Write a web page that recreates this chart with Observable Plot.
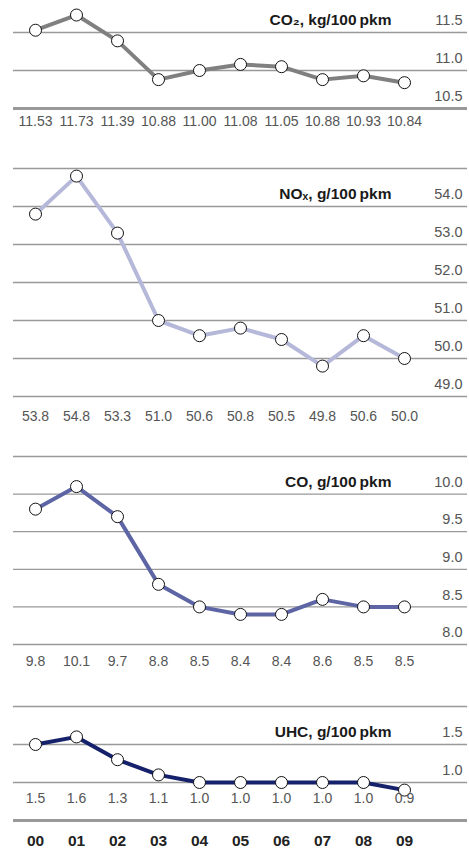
<!DOCTYPE html>
<html>
<head>
<meta charset="utf-8">
<script src="https://cdn.jsdelivr.net/npm/d3@7"></script>
<script src="https://cdn.jsdelivr.net/npm/@observablehq/plot@0.6"></script>
<style>
html, body { margin: 0; padding: 0; background: #fff; }
#chart svg { display: block; }
</style>
</head>
<body>
<div id="chart"></div>
<script>
// ---- data ----
const years = ["00", "01", "02", "03", "04", "05", "06", "07", "08", "09"];

const co2Values = [11.53, 11.73, 11.39, 10.88, 11.00, 11.08, 11.05, 10.88, 10.93, 10.84];
const noxValues = [53.8, 54.8, 53.3, 51.0, 50.6, 50.8, 50.5, 49.8, 50.6, 50.0];
const coValues  = [9.8, 10.1, 9.7, 8.8, 8.5, 8.4, 8.4, 8.6, 8.5, 8.5];
const uhcValues = [1.5, 1.6, 1.3, 1.1, 1.0, 1.0, 1.0, 1.0, 1.0, 0.9];

const co2Ticks = [11.5, 11.0, 10.5];
const noxTicks = [54.0, 53.0, 52.0, 51.0, 50.0, 49.0];
const coTicks  = [10.0, 9.5, 9.0, 8.5, 8.0];
const uhcTicks = [1.5, 1.0];

const co2Title = "CO\u2082, kg/100\u2009pkm";
const noxTitle = "NO\u2093, g/100\u2009pkm";
const coTitle  = "CO, g/100\u2009pkm";
const uhcTitle = "UHC, g/100\u2009pkm";

// ---- panel options ----
const panels = [
  { title: co2Title, values: co2Values, ticks: co2Ticks, decimals: 2,
    grid: [11.5, 11.0], thick: [10.5], domain: [10.5, 11.5], range: [108, 32],
    height: 150, frameBottom: 108, rowDy: 17, color: "#808080", years: false },
  { title: noxTitle, values: noxValues, ticks: noxTicks, decimals: 1,
    grid: [55, 54, 53, 52, 51, 50, 49], thick: [], domain: [49, 55], range: [246, 18],
    height: 290, frameBottom: 246, rowDy: 24, color: "#b5b8d9", years: false },
  { title: coTitle, values: coValues, ticks: coTicks, decimals: 1,
    grid: [10.5, 10, 9.5, 9, 8.5, 8], thick: [], domain: [8, 10.5], range: [204, 16],
    height: 250, frameBottom: 204, rowDy: 21, color: "#5d65a5", years: false },
  { title: uhcTitle, values: uhcValues, ticks: uhcTicks, decimals: 1,
    grid: [2.0, 1.5, 1.0], thick: [0.5], domain: [0.5, 2.0], range: [130, 16],
    height: 159, frameBottom: 130, rowDy: -18, color: "#15216b", years: true }
];

const font = "'Liberation Sans', Arial, Helvetica, sans-serif";
const chart = document.getElementById("chart");

for (const p of panels) {
  const rows = years.map((year, i) => ({ year, value: p.values[i] }));
  const fmtVal = d3.format("." + p.decimals + "f");
  const fmtTick = d3.format(".1f");
  const svg = Plot.plot({
    width: 469,
    height: p.height,
    marginLeft: 13,
    marginRight: 2,
    marginTop: 0,
    marginBottom: p.height - p.frameBottom,
    style: { fontFamily: font, color: "#222", background: "#fff" },
    x: { type: "point", domain: years, range: [32, 406], padding: 0, axis: null },
    y: { domain: p.domain, range: p.range, axis: null },
    marks: [
      Plot.ruleY(p.grid, { stroke: "#999", strokeWidth: 1.3 }),
      Plot.ruleY(p.thick, { stroke: "#999", strokeWidth: 3 }),
      Plot.text(p.ticks, {
        y: d => d, text: d => fmtTick(d), frameAnchor: "right",
        textAnchor: "end", dx: -5, dy: -12, fontSize: 14.5, fill: "#555"
      }),
      Plot.text([p.title], {
        y: () => p.ticks[0], text: d => d, frameAnchor: "right",
        textAnchor: "end", dx: -76, dy: -12, fontSize: 15.5, fontWeight: "bold", fill: "#1a1a1a"
      }),
      Plot.line(rows, { x: "year", y: "value", stroke: p.color, strokeWidth: 4 }),
      Plot.dot(rows, { x: "year", y: "value", r: 6, fill: "white", stroke: "#111", strokeWidth: 1 }),
      Plot.text(rows, {
        x: "year", text: d => fmtVal(d.value), frameAnchor: "bottom",
        dy: p.rowDy, fontSize: 14, fill: "#555"
      }),
      p.years ? Plot.axisX({
        tickSize: 0, tickPadding: 14, fontSize: 15.5, fontWeight: "bold", label: null
      }) : null
    ]
  });
  chart.appendChild(svg);
}
</script>
</body>
</html>
